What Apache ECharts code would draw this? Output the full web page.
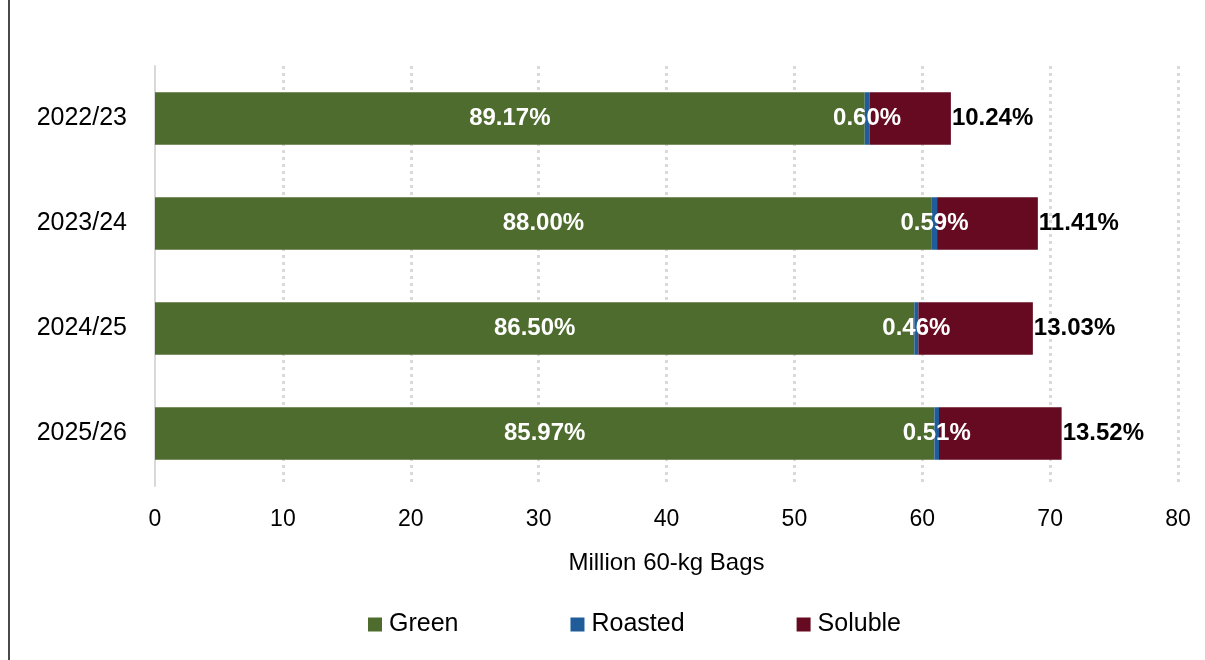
<!DOCTYPE html>
<html>
<head>
<meta charset="utf-8">
<script src="https://cdn.jsdelivr.net/npm/echarts@6/dist/echarts.min.js"></script>
<style>
html,body{margin:0;padding:0;background:#fff;}
#chart{width:1205px;height:660px;}
</style>
</head>
<body>
<div id="chart"></div>
<script>
// Data (million 60-kg bags), top to bottom order
const categories = ['2022/23', '2023/24', '2024/25', '2025/26'];
const green = [55.50, 60.75, 59.38, 60.95];
const roasted = [0.37, 0.41, 0.32, 0.36];
const soluble = [6.37, 7.88, 8.95, 9.59];
const greenPct = ['89.17%', '88.00%', '86.50%', '85.97%'];
const roastedPct = ['0.60%', '0.59%', '0.46%', '0.51%'];
const solublePct = ['10.24%', '11.41%', '13.03%', '13.52%'];
const xTicks = [0, 10, 20, 30, 40, 50, 60, 70, 80];

const FONT = '"Liberation Sans", Arial, sans-serif';
const chart = echarts.init(document.getElementById('chart'), null, {renderer: 'canvas'});

function mk(name, data, labels, color, labelOpt) {
  return {
    name: name,
    type: 'bar',
    stack: 'total',
    barWidth: '50%',
    data: data,
    itemStyle: {color: color},
    label: Object.assign({
      show: true,
      fontFamily: FONT,
      fontWeight: 'bold',
      fontSize: 24,
      formatter: p => labels[p.dataIndex]
    }, labelOpt)
  };
}

chart.setOption({
  animation: false,
  textStyle: {fontFamily: FONT},
  grid: {left: 155, right: 27, top: 66, bottom: 174, containLabel: false},
  xAxis: {
    type: 'value',
    min: xTicks[0], max: xTicks[xTicks.length - 1], interval: 10,
    name: 'Million 60-kg Bags',
    nameLocation: 'middle',
    nameGap: 65,
    nameTextStyle: {fontFamily: FONT, fontSize: 24, color: '#000', verticalAlign: 'top'},
    axisLine: {show: false},
    axisTick: {show: false},
    axisLabel: {fontFamily: FONT, fontSize: 23, color: '#000', margin: 22},
    splitLine: {show: true, showMinLine: false, lineStyle: {color: '#d9d9d9', type: [3, 4], width: 3}}
  },
  yAxis: {
    type: 'category',
    inverse: true,
    data: categories,
    axisLine: {show: true, lineStyle: {color: '#d9d9d9', width: 2}},
    axisTick: {show: false},
    axisLabel: {fontFamily: FONT, fontSize: 25, color: '#000', margin: 28}
  },
  legend: {
    bottom: 18,
    left: 363,
    itemWidth: 14, itemHeight: 14,
    itemGap: 112,
    icon: 'rect',
    textStyle: {fontFamily: FONT, fontSize: 25, color: '#000', padding: [0, 0, 0, 2]},
    data: ['Green', 'Roasted', 'Soluble']
  },
  graphic: [{
    type: 'line', shape: {x1: 9, y1: 0, x2: 9, y2: 660},
    style: {stroke: '#4a4a4a', lineWidth: 2}
  }],
  series: [
    mk('Green', green, greenPct, '#4f6c2f', {position: 'inside', color: '#fff'}),
    mk('Roasted', roasted, roastedPct, '#1f5c99', {position: 'inside', color: '#fff'}),
    mk('Soluble', soluble, solublePct, '#650a21', {position: 'right', color: '#000', distance: 1})
  ]
});
</script>
</body>
</html>
